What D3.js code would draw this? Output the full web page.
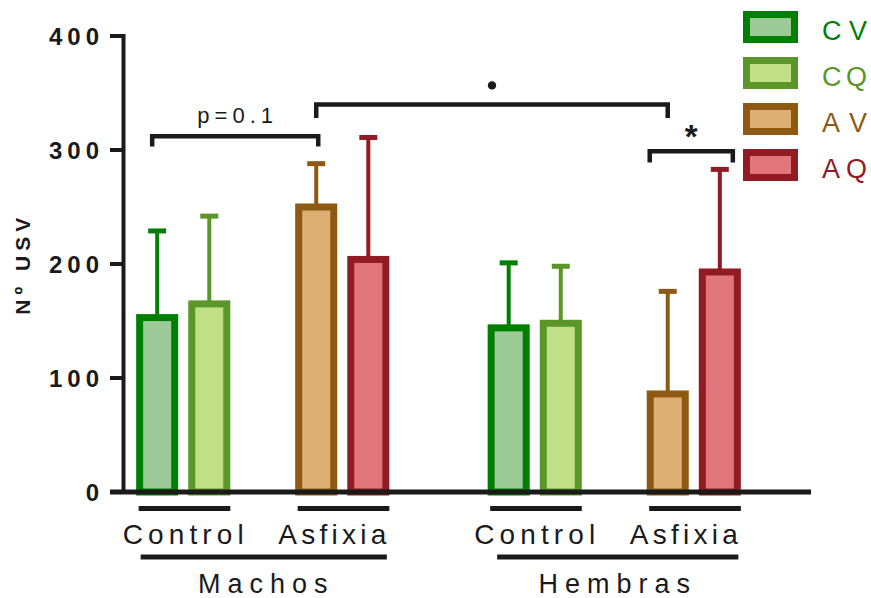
<!DOCTYPE html>
<html>
<head>
<meta charset="utf-8">
<script src="https://cdn.jsdelivr.net/npm/d3@7"></script>
<style>
  body { margin: 0; background: #fff; }
  svg { display: block; font-family: "Liberation Sans", Arial, sans-serif; }
</style>
</head>
<body>
<svg id="grafica" width="871" height="598"></svg>
<script>
// datos
let sexos = ["Machos", "Hembras"];
let condiciones = ["Control", "Asfixia"];
let series = ["CV", "CQ", "AV", "AQ"];
let bordes = ["#008000", "#5a9628", "#8e5a13", "#911a23"];
let rellenos = ["#9ccb98", "#c0df87", "#deaf72", "#e0757b"];
let mediasMachos = [153, 165, 250, 204];
let errMachos = [76, 77, 38, 107];
let mediasHembras = [144, 148, 86, 193];
let errHembras = [57, 50, 90, 90];
let yticks = [0, 100, 200, 300, 400];

// cada barra: sexo, condicion, serie
let barras = [];
sexos.forEach((s, i) => {
    let medias = i == 0 ? mediasMachos : mediasHembras;
    let errs = i == 0 ? errMachos : errHembras;
    series.forEach((se, j) => {
        barras.push({
            sexo: s,
            cond: condiciones[Math.floor(j / 2)],
            pos: j % 2,
            serie: se,
            media: medias[j],
            err: errs[j],
            borde: bordes[j],
            relleno: rellenos[j]
        });
    });
});

// comparaciones entre barras (indices), nivel del corchete y fin de las patas
let comparaciones = [
    {a: 0, b: 2, nivel: 312, pata: 303, da: -5, db: 2, txt: "p=0.1"},
    {a: 2, b: 6, nivel: 340, pata: 328, da: 0, db: 0, txt: "•"},
    {a: 6, b: 7, nivel: 299, pata: 289, da: -18, db: 13, txt: "*"}
];

let svg = d3.select("#grafica");
let tinta = "#1a1a1a";

let y = d3.scaleLinear().domain([0, 400]).range([492, 36]);

let x0 = d3.scaleBand().domain(sexos).range([87, 790]);
let x1 = d3.scaleBand().domain(condiciones).range([0, x0.bandwidth()])
    .paddingInner(0).paddingOuter(0.105);
let x2 = d3.scaleBand().domain([0, 1]).range([0, x1.bandwidth()])
    .paddingInner(0.327).paddingOuter(0.69);

let xb = d => x0(d.sexo) + x1(d.cond) + x2(d.pos);
let xc = d => xb(d) + x2.bandwidth() / 2;

// barras de error (solo hacia arriba)
let ge = svg.append("g");
ge.selectAll(".errv")
    .data(barras)
    .enter()
    .append("line")
    .attr("x1", xc).attr("x2", xc)
    .attr("y1", d => y(d.media))
    .attr("y2", d => y(d.media + d.err))
    .style("stroke", d => d.borde)
    .style("stroke-width", 4);

ge.selectAll(".errc")
    .data(barras)
    .enter()
    .append("line")
    .attr("x1", d => xc(d) - 9).attr("x2", d => xc(d) + 9)
    .attr("y1", d => y(d.media + d.err))
    .attr("y2", d => y(d.media + d.err))
    .style("stroke", d => d.borde)
    .style("stroke-width", 5);

svg.append("g").selectAll("rect")
    .data(barras)
    .enter()
    .append("rect")
    .attr("x", xb)
    .attr("y", d => y(d.media))
    .attr("width", x2.bandwidth())
    .attr("height", d => y(0) - y(d.media))
    .style("fill", d => d.relleno)
    .style("stroke", d => d.borde)
    .style("stroke-width", 7);

// eje y
let gy = svg.append("g");
gy.append("line")
    .attr("x1", 123.5).attr("x2", 123.5)
    .attr("y1", y(400) - 2).attr("y2", y(0))
    .style("stroke", tinta).style("stroke-width", 4);

gy.selectAll(".tick")
    .data(yticks)
    .enter()
    .append("line")
    .attr("x1", 110).attr("x2", 123)
    .attr("y1", d => y(d)).attr("y2", d => y(d))
    .style("stroke", tinta).style("stroke-width", 4);

gy.selectAll(".tlab")
    .data(yticks)
    .enter()
    .append("text")
    .attr("x", 104)
    .attr("y", d => y(d) + 8.5)
    .text(d => d)
    .style("text-anchor", "end")
    .style("font-size", "24px")
    .style("font-weight", "bold")
    .style("letter-spacing", "5px")
    .style("fill", tinta);

svg.append("text")
    .attr("transform", "translate(30," + y(198) + ") rotate(-90)")
    .attr("dx", 2.5)
    .text("Nº USV")
    .style("text-anchor", "middle")
    .style("font-size", "21px")
    .style("font-weight", "bold")
    .style("letter-spacing", "5px")
    .style("fill", tinta);

// eje x
svg.append("line")
    .attr("x1", 110).attr("x2", 811)
    .attr("y1", y(0)).attr("y2", y(0))
    .style("stroke", tinta).style("stroke-width", 5);

// etiquetas de grupo
let grupos = [];
sexos.forEach(s => condiciones.forEach(c => grupos.push({sexo: s, cond: c})));

svg.selectAll(".subr")
    .data(grupos)
    .enter()
    .append("line")
    .attr("x1", d => x0(d.sexo) + x1(d.cond) + x2(0) - 1)
    .attr("x2", d => x0(d.sexo) + x1(d.cond) + x2(1) + x2.bandwidth() + 3.5)
    .attr("y1", 508.5).attr("y2", 508.5)
    .style("stroke", tinta).style("stroke-width", 5);

svg.selectAll(".glab")
    .data(grupos)
    .enter()
    .append("text")
    .attr("x", d => x0(d.sexo) + x1(d.cond) + x1.bandwidth() / 2 + (d.cond == "Asfixia" ? -10 : 0))
    .attr("y", 544)
    .attr("textLength", d => d.cond == "Asfixia" ? 108 : 121)
    .attr("lengthAdjust", "spacing")
    .text(d => d.cond)
    .style("text-anchor", "middle")
    .style("font-size", "28px")
    .style("fill", tinta);

svg.selectAll(".sraya")
    .data(sexos)
    .enter()
    .append("line")
    .attr("x1", d => x0(d) + x1("Control") + x2(0) + (d == "Machos" ? 1 : 6))
    .attr("x2", d => x0(d) + x1("Asfixia") + x2(1) + x2.bandwidth() + 1)
    .attr("y1", 557).attr("y2", 557)
    .style("stroke", tinta).style("stroke-width", 5);

svg.selectAll(".slab")
    .data(sexos)
    .enter()
    .append("text")
    .attr("x", d => x0(d) + x0.bandwidth() / 2)
    .attr("dx", 3.5)
    .attr("y", 593)
    .text(d => d)
    .style("text-anchor", "middle")
    .style("font-size", "27px")
    .style("letter-spacing", "7px")
    .style("fill", tinta);

// corchetes de significancia
let gc = svg.append("g");
comparaciones.forEach(c => {
    let xa = xc(barras[c.a]) + c.da;
    let xz = xc(barras[c.b]) + c.db;
    let path = d3.path();
    path.moveTo(xa, y(c.pata));
    path.lineTo(xa, y(c.nivel));
    path.lineTo(xz, y(c.nivel));
    path.lineTo(xz, y(c.pata));
    gc.append("path")
        .attr("d", path.toString())
        .style("fill", "none")
        .style("stroke", tinta)
        .style("stroke-width", 4.5);

    let xm = (xa + xz) / 2;
    if (c.txt == "•") {
        gc.append("circle")
            .attr("cx", xm).attr("cy", y(c.nivel) - 19)
            .attr("r", 4.2)
            .style("fill", tinta);
    } else if (c.txt == "*") {
        gc.append("text")
            .attr("x", xm).attr("y", y(c.nivel) - 3)
            .text(c.txt)
            .style("text-anchor", "middle")
            .style("font-size", "33px")
            .style("font-weight", "bold")
            .style("fill", tinta);
    } else {
        gc.append("text")
            .attr("x", xm).attr("dx", 2.5)
            .attr("y", y(c.nivel) - 13)
            .text(c.txt)
            .style("text-anchor", "middle")
            .style("font-size", "22px")
            .style("letter-spacing", "5px")
            .style("fill", tinta);
    }
});

// leyenda
let gl = svg.append("g");
gl.selectAll("rect")
    .data(series)
    .enter()
    .append("rect")
    .attr("x", 746.5)
    .attr("y", (d, i) => 14.5 + i * 46)
    .attr("width", 48)
    .attr("height", 25)
    .style("fill", (d, i) => rellenos[i])
    .style("stroke", (d, i) => bordes[i])
    .style("stroke-width", 7);

gl.selectAll("text")
    .data(series)
    .enter()
    .append("text")
    .attr("x", 822)
    .attr("y", (d, i) => 40 + i * 46)
    .attr("textLength", 45)
    .attr("lengthAdjust", "spacing")
    .text(d => d)
    .style("font-size", "27px")
    .style("fill", (d, i) => bordes[i]);
</script>
</body>
</html>
